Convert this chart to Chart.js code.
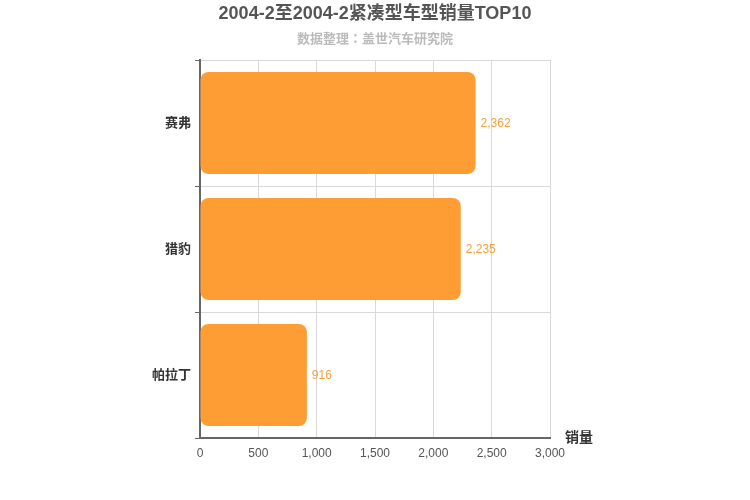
<!DOCTYPE html>
<html>
<head>
<meta charset="utf-8">
<script src="https://cdn.jsdelivr.net/npm/chart.js@4/dist/chart.umd.min.js"></script>
<style>
  html, body { margin: 0; padding: 0; background: #fff; }
  #wrap { width: 750px; height: 500px; }
</style>
</head>
<body>
<div id="wrap"><canvas id="chart"></canvas></div>
<script>
// data
const categories = ['赛弗', '猎豹', '帕拉丁'];
const sales = [2362, 2235, 916];
const xTicks = [0, 500, 1000, 1500, 2000, 2500, 3000];

const FONT = '"Liberation Sans", Arial, "Noto Sans CJK SC", sans-serif';
const CJK = '"Noto Sans CJK TC", "Noto Sans CJK SC", sans-serif';
const ORANGE = '#FF9D35';

// titles across the full width, value labels beside the bars, axis name
const extras = {
    id: 'extras',
    afterDraw(chart) {
        const ctx = chart.ctx;
        const meta = chart.getDatasetMeta(0);
        ctx.save();
        ctx.textBaseline = 'middle';

        ctx.textAlign = 'center';
        ctx.font = 'bold 18px ' + FONT;
        ctx.fillStyle = '#555';
        ctx.fillText('2004-2至2004-2紧凑型车型销量TOP10', chart.width / 2, 14);
        ctx.font = 'bold 13px ' + CJK;
        ctx.fillStyle = '#bbb';
        ctx.fillText('数据整理：盖世汽车研究院', chart.width / 2, 38);

        ctx.textAlign = 'left';
        ctx.font = '12px ' + FONT;
        ctx.fillStyle = '#F3A03E';
        meta.data.forEach((bar, i) => {
            ctx.fillText(sales[i].toLocaleString('en-US'), bar.x + 5, bar.y + 1);
        });
        ctx.font = 'bold 14px ' + FONT;
        ctx.fillStyle = '#333';
        ctx.fillText('销量', chart.chartArea.right + 15, chart.chartArea.bottom);
        ctx.restore();
    }
};

new Chart(document.getElementById('chart'), {
    type: 'bar',
    data: {
        labels: categories,
        datasets: [{
            data: sales,
            backgroundColor: ORANGE,
            borderRadius: 8,
            borderSkipped: false,
            barPercentage: 0.81,
            categoryPercentage: 1
        }]
    },
    options: {
        indexAxis: 'y',
        responsive: true,
        maintainAspectRatio: false,
        animation: false,
        layout: { padding: { left: 0, right: 200, top: 60, bottom: 0 } },
        plugins: {
            legend: { display: false },
            tooltip: { enabled: false }
        },
        scales: {
            x: {
                min: 0,
                max: 3000,
                afterBuildTicks(scale) {
                    scale.ticks = xTicks.map(v => ({ value: v }));
                },
                afterFit(scale) { scale.height = 62; },
                ticks: {
                    color: '#555',
                    font: { family: FONT, size: 12 },
                    padding: 8,
                    callback: v => v.toLocaleString('en-US')
                },
                grid: { color: '#d9d9d9', drawTicks: false },
                border: { color: '#666', width: 2 }
            },
            y: {
                afterFit(scale) { scale.width = 200; },
                ticks: {
                    color: '#333',
                    font: { family: FONT, size: 13, weight: 'bold' },
                    padding: 4
                },
                grid: { color: '#d9d9d9', tickLength: 5, tickColor: '#666', offset: true },
                border: { color: '#666', width: 2 }
            }
        }
    },
    plugins: [extras]
});
</script>
</body>
</html>
